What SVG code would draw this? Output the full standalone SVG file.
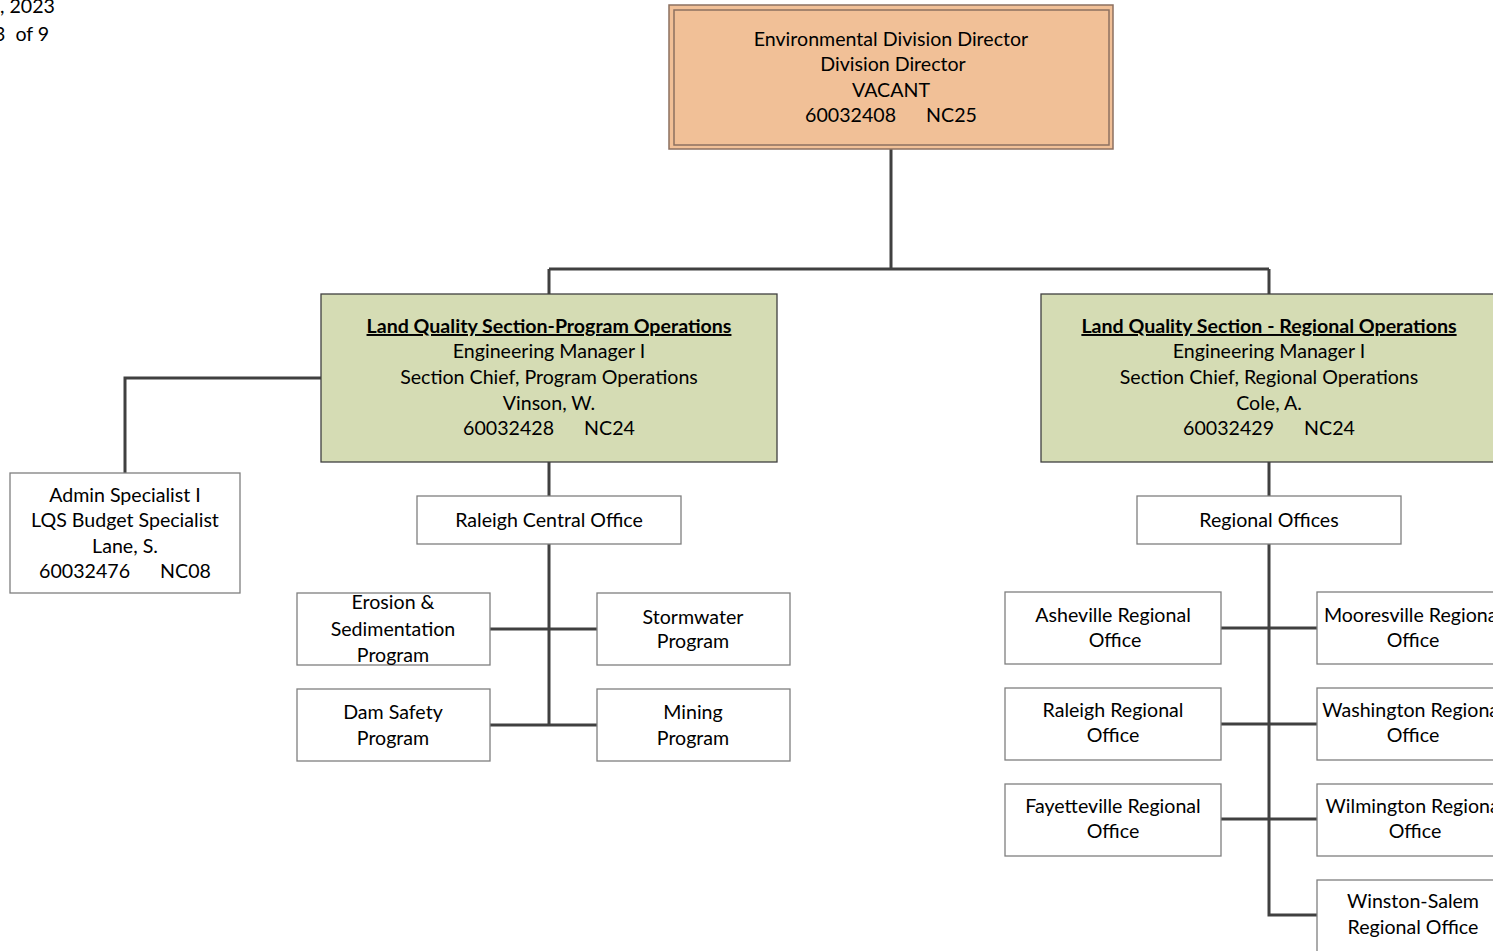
<svg xmlns="http://www.w3.org/2000/svg" width="1493" height="951" viewBox="0 0 1493 951">
<style>
.t{font-family:Lato,"Open Sans","Liberation Sans",sans-serif;font-size:19.6px;fill:#000;text-anchor:middle;white-space:pre}
.s{text-anchor:start}
.h{font-weight:bold;text-decoration:underline}
.c{stroke:#404040;stroke-width:3;fill:none}
.w{fill:#fff;stroke:#7f7f7f;stroke-width:1.3}
.g{fill:#D5DCB4;stroke:#404040;stroke-width:1.3}
.o{fill:#F1C097;stroke:#8C7060;stroke-width:1.5}
</style>
<rect width="1493" height="951" fill="#fff"/>
<g id="header">
<text class="t s" x="0" y="13">, 2023</text>
<text class="t s" x="-6" y="41">3  of 9</text>
</g>
<g id="connectors">
<path class="c" d="M891 149V269M549 269H1269M549 269V294M1269 269V294"/>
<path class="c" d="M321 378H125V473"/>
<path class="c" d="M549 462V496M549 544V725M490 629H597M490 725H597"/>
<path class="c" d="M1269 462V496M1269 544V915H1317M1221 628H1317M1221 724H1317M1221 819H1317"/>
</g>
<g id="director">
<rect class="o" x="669" y="5" width="444" height="144"/>
<rect class="o" x="674" y="10" width="435" height="135"/>
<text class="t" x="891" y="46">Environmental Division Director</text>
<text class="t" x="893" y="71">Division Director</text>
<text class="t" x="891" y="97">VACANT</text>
<text class="t" x="891" y="122">60032408      NC25</text>
</g>
<g id="lqs-program">
<rect class="g" x="321" y="294" width="456" height="168"/>
<text class="t h" x="549" y="333">Land Quality Section-Program Operations</text>
<text class="t" x="549" y="358">Engineering Manager I</text>
<text class="t" x="549" y="384">Section Chief, Program Operations</text>
<text class="t" x="549" y="410">Vinson, W.</text>
<text class="t" x="549" y="435">60032428      NC24</text>
</g>
<g id="lqs-regional">
<rect class="g" x="1041" y="294" width="470" height="168"/>
<text class="t h" x="1269" y="333">Land Quality Section - Regional Operations</text>
<text class="t" x="1269" y="358">Engineering Manager I</text>
<text class="t" x="1269" y="384">Section Chief, Regional Operations</text>
<text class="t" x="1269" y="410">Cole, A.</text>
<text class="t" x="1269" y="435">60032429      NC24</text>
</g>
<g id="admin">
<rect class="w" x="10" y="473" width="230" height="120"/>
<text class="t" x="125" y="502">Admin Specialist I</text>
<text class="t" x="125" y="527">LQS Budget Specialist</text>
<text class="t" x="125" y="553">Lane, S.</text>
<text class="t" x="125" y="578">60032476      NC08</text>
</g>
<g id="raleigh-central">
<rect class="w" x="417" y="496" width="264" height="48"/>
<text class="t" x="549" y="527">Raleigh Central Office</text>
</g>
<g id="regional-offices">
<rect class="w" x="1137" y="496" width="264" height="48"/>
<text class="t" x="1269" y="527">Regional Offices</text>
</g>
<g id="erosion">
<rect class="w" x="297" y="593" width="193" height="72"/>
<text class="t" x="393" y="609">Erosion &amp;</text>
<text class="t" x="393" y="636">Sedimentation</text>
<text class="t" x="393" y="662">Program</text>
</g>
<g id="stormwater">
<rect class="w" x="597" y="593" width="193" height="72"/>
<text class="t" x="693" y="624">Stormwater</text>
<text class="t" x="693" y="648">Program</text>
</g>
<g id="dam-safety">
<rect class="w" x="297" y="689" width="193" height="72"/>
<text class="t" x="393" y="719">Dam Safety</text>
<text class="t" x="393" y="745">Program</text>
</g>
<g id="mining">
<rect class="w" x="597" y="689" width="193" height="72"/>
<text class="t" x="693" y="719">Mining</text>
<text class="t" x="693" y="745">Program</text>
</g>
<g id="asheville">
<rect class="w" x="1005" y="592" width="216" height="72"/>
<text class="t" x="1113" y="622">Asheville Regional</text>
<text class="t" x="1115" y="647">Office</text>
</g>
<g id="raleigh-regional">
<rect class="w" x="1005" y="688" width="216" height="72"/>
<text class="t" x="1113" y="717">Raleigh Regional</text>
<text class="t" x="1113" y="742">Office</text>
</g>
<g id="fayetteville">
<rect class="w" x="1005" y="784" width="216" height="72"/>
<text class="t" x="1113" y="813">Fayetteville Regional</text>
<text class="t" x="1113" y="838">Office</text>
</g>
<g id="mooresville">
<rect class="w" x="1317" y="592" width="200" height="72"/>
<text class="t" x="1413" y="622">Mooresville Regional</text>
<text class="t" x="1413" y="647">Office</text>
</g>
<g id="washington">
<rect class="w" x="1317" y="688" width="200" height="72"/>
<text class="t" x="1413" y="717">Washington Regional</text>
<text class="t" x="1413" y="742">Office</text>
</g>
<g id="wilmington">
<rect class="w" x="1317" y="784" width="200" height="72"/>
<text class="t" x="1415" y="813">Wilmington Regional</text>
<text class="t" x="1415" y="838">Office</text>
</g>
<g id="winston-salem">
<rect class="w" x="1317" y="880" width="200" height="90"/>
<text class="t" x="1413" y="908">Winston-Salem</text>
<text class="t" x="1413" y="934">Regional Office</text>
</g>
</svg>
